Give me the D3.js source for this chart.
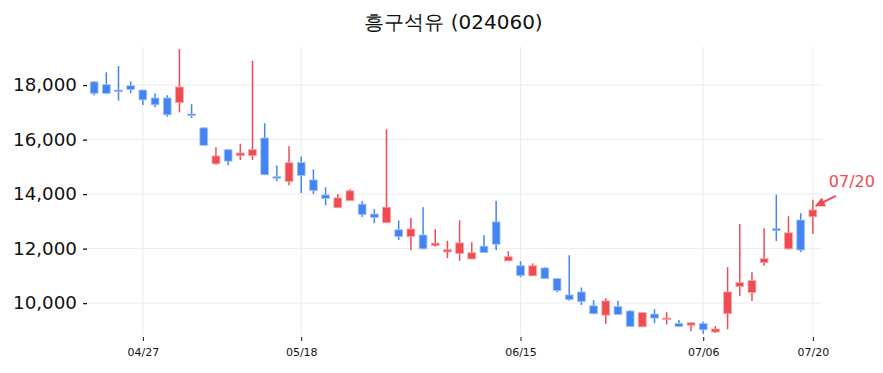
<!DOCTYPE html>
<html><head><meta charset="utf-8">
<script src="https://cdn.jsdelivr.net/npm/d3@7"></script>
<style>body{margin:0;background:#fff}svg text{font-family:"DejaVu Sans",sans-serif}</style>
</head><body><svg id="c" width="883" height="373"></svg>
<script>
const title = "흥구석유 (024060)";
const dates = ["04/21","04/24","04/25","04/26","04/27","04/28","05/02","05/03","05/04","05/08","05/09","05/10","05/11","05/12","05/15","05/16","05/17","05/18",
"05/19","05/22","05/23","05/24","05/25","05/26","05/30","05/31","06/01","06/02","06/05","06/07","06/08","06/09","06/12","06/13","06/14","06/15",
"06/16","06/19","06/20","06/21","06/22","06/23","06/26","06/27","06/28","06/29","06/30","07/03","07/04","07/05","07/06",
"07/07","07/10","07/11","07/12","07/13","07/14","07/17","07/18","07/20"];
const open  = [18120,18020,17820,17980,17820,17530,17530,17360,16940,16430,15110,15630,15410,15410,16060,14640,14460,15160,14520,13970,13500,13760,13630,13270,12950,12690,12440,12500,12110,11880,11820,11620,12090,12980,11550,11370,11000,11290,10900,10300,10410,9900,9560,9880,9710,9130,9600,9410,9250,9190,9250,8940,9610,10610,10390,11490,12730,11990,13050,13170];
const high  = [18140,18470,18700,18140,17830,17700,17630,19320,17300,16450,15720,15660,15850,18900,16600,15050,15760,15380,14910,14250,14000,14180,13750,13450,16380,13030,13120,13520,12710,12290,13040,12230,12490,13760,11900,11540,11460,11320,10920,11760,10570,10110,10180,10090,9750,9670,9780,9670,9380,9280,9320,9160,11320,12900,11130,12750,13980,13190,13300,13790];
const low   = [17630,17670,17430,17700,17270,17190,16840,17000,16800,15790,15080,15060,15250,15250,14710,14480,14330,14040,14000,13590,13500,13760,13160,12930,12950,12320,11940,11990,12070,11650,11550,11620,11850,11940,11550,10950,11000,10900,10400,10090,9930,9590,9240,9580,9140,9130,9260,9210,9140,8970,8880,8900,9040,10260,10080,11370,12280,11960,11870,12540];
const close = [17700,17690,17760,17840,17460,17280,16910,17930,16890,15790,15400,15210,15510,15630,14710,14590,15150,14680,14130,13840,13860,14120,13250,13140,13520,12440,12720,11990,12200,11960,12210,11850,11850,12160,11700,11010,11370,10900,10460,10130,10060,9610,10080,9580,9140,9650,9450,9450,9140,9280,9020,9050,10410,10750,10830,11630,12660,12580,11950,13420];
const tickLabels = ["04/27","05/18","06/15","07/06","07/20"];
const yTicks = [10000,12000,14000,16000,18000];
const annotation = "07/20";

const UP = "#ef4b50", DOWN = "#4383f2";
const svg = d3.select("#c");
const L = 85, R = 822, T = 46.7, B = 335;
const x = d3.scalePoint().domain(dates).range([L, R]).padding(0.75);
const y = d3.scaleLinear().domain([8830, 19410]).range([B, T]);

// grid
svg.append("g").selectAll("line").data(yTicks).join("line")
  .attr("x1", L).attr("x2", R).attr("y1", d => y(d)).attr("y2", d => y(d))
  .attr("stroke", "#ebebeb").attr("stroke-width", 1);
svg.append("g").selectAll("line").data(tickLabels).join("line")
  .attr("x1", d => x(d)).attr("x2", d => x(d)).attr("y1", T).attr("y2", B)
  .attr("stroke", "#ebebeb").attr("stroke-width", 1);

// axes
const yAxis = d3.axisLeft(y).tickValues(yTicks).tickFormat(d3.format(",")).tickSize(4).tickPadding(6);
const gy = svg.append("g").attr("transform", `translate(${L+2},0)`).call(yAxis);
gy.select(".domain").remove();
gy.selectAll("text").attr("font-size", 18.3).attr("fill", "#111").style("font-family", "DejaVu Sans");
gy.selectAll("line").attr("stroke", "#111").attr("stroke-width", 1.3);

const xAxis = d3.axisBottom(x).tickValues(tickLabels).tickSize(4).tickPadding(7);
const gx = svg.append("g").attr("transform", `translate(0,${B+2})`).call(xAxis);
gx.select(".domain").remove();
gx.selectAll("text").attr("font-size", 11).attr("fill", "#111").style("font-family", "DejaVu Sans");
gx.selectAll("line").attr("stroke", "#111");

// candles
const data = dates.map((d, i) => ({d, o: open[i], h: high[i], l: low[i], c: close[i]}));
const bw = x.step() * 0.64;
const g = svg.append("g");
g.selectAll("line.w").data(data).join("line").attr("class", "w")
  .attr("x1", d => x(d.d)).attr("x2", d => x(d.d))
  .attr("y1", d => y(d.h)).attr("y2", d => y(d.l))
  .attr("stroke", d => d.c >= d.o ? UP : DOWN).attr("stroke-width", 1.5);
g.selectAll("rect").data(data).join("rect")
  .attr("x", d => x(d.d) - bw / 2).attr("width", bw)
  .attr("y", d => y(Math.max(d.o, d.c)))
  .attr("height", d => Math.max(1.5, Math.abs(y(d.o) - y(d.c))))
  .attr("fill", d => d.c >= d.o ? UP : DOWN)
  .attr("stroke", d => d.c >= d.o ? "#f7a3a6" : "#a6c4f8").attr("stroke-width", 0.8);

// title
svg.append("text").attr("x", (L + R) / 2).attr("y", 29).attr("text-anchor", "middle")
  .attr("font-size", 20).attr("fill", "#111").text(title);

// annotation
const last = data[data.length - 1];
const ax = x(last.d), ay = y(Math.max(last.o, last.c));
svg.append("defs").append("marker").attr("id", "ah").attr("viewBox", "0 0 10 10")
  .attr("refX", 9).attr("refY", 5).attr("markerWidth", 5).attr("markerHeight", 5).attr("orient", "auto")
  .append("path").attr("d", "M0,0 L10,5 L0,10 Z").attr("fill", UP);
svg.append("line").attr("x1", ax + 23).attr("y1", ay - 14).attr("x2", ax + 3).attr("y2", ay - 4)
  .attr("stroke", UP).attr("stroke-width", 2).attr("marker-end", "url(#ah)");
svg.append("text").attr("x", ax + 16).attr("y", ay - 23).attr("font-size", 16).attr("fill", UP).text(annotation);
</script></body></html>
